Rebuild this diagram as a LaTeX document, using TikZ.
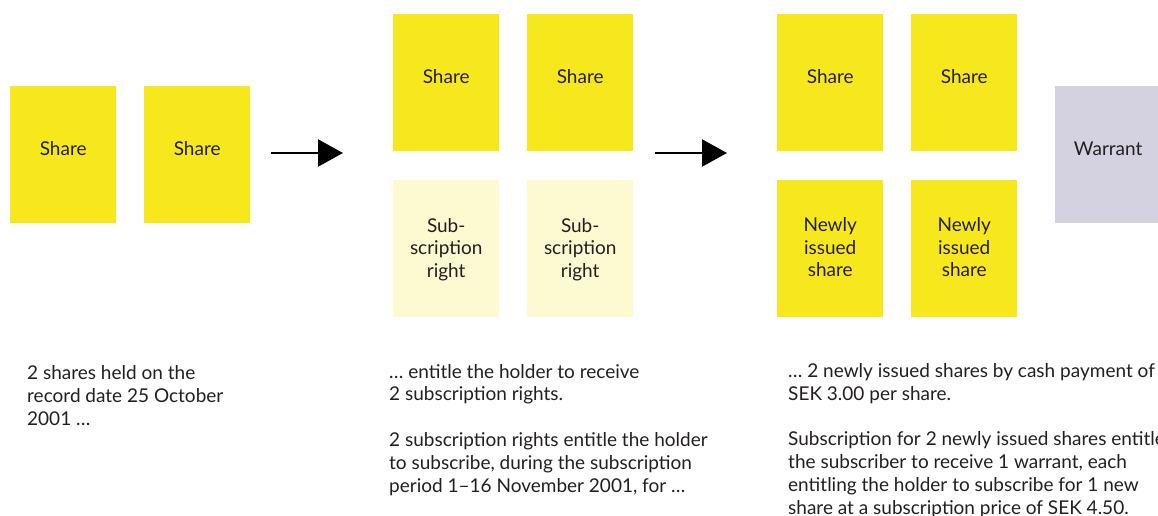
\documentclass[tikz,border=0pt]{standalone}
\usepackage{fontspec}
\setmainfont{Lato}
\usetikzlibrary{arrows.meta}
\definecolor{shareyellow}{HTML}{F7E81E}
\definecolor{rightyellow}{HTML}{FDF9D0}
\definecolor{warrantgrey}{HTML}{D4D2E1}
\definecolor{ink}{HTML}{231F20}
\begin{document}
\begin{tikzpicture}[x=1pt,y=-1pt,
  card/.style={draw=none,inner sep=0pt,minimum width=106pt,minimum height=137pt,anchor=north west},
  sharecard/.style={card,fill=shareyellow},
  rightcard/.style={card,fill=rightyellow},
  warrantcard/.style={card,fill=warrantgrey},
  txt/.style={text=ink,font={\fontsize{19}{22.8}\selectfont}},
  oneline/.style={txt,anchor=base,inner sep=0pt},
  multiline/.style={txt,anchor=center,align=center,inner sep=0pt},
  caption/.style={txt,anchor=base west,align=left,inner sep=0pt},
  flow/.style={line width=2.3pt,-{Triangle[length=25pt,width=27pt]}}]
\useasboundingbox (0,0) rectangle (1158,516);
\clip (0,0) rectangle (1158,516);

% step 1: shares held
\node[sharecard] (s1) at (10,86) {};
\node[sharecard] (s2) at (144,86) {};
% step 2: shares plus subscription rights
\node[sharecard] (m1) at (393,14) {};
\node[sharecard] (m2) at (527,14) {};
\node[rightcard] (r1) at (393,180) {};
\node[rightcard] (r2) at (527,180) {};
% step 3: shares, new shares and warrant
\node[sharecard] (t1) at (777,14) {};
\node[sharecard] (t2) at (911,14) {};
\node[sharecard] (n1) at (777,180) {};
\node[sharecard] (n2) at (911,180) {};
\node[warrantcard] (w) at (1055,86) {};

% card labels
\foreach \c in {s1,s2,m1,m2,t1,t2}
  \node[oneline] at ([yshift=-1pt]\c.center) {Share};
\node[oneline] at ([yshift=-1pt]w.center) {Warrant};
\foreach \c in {r1,r2}
  \node[multiline] at ([yshift=-1pt]\c.center) {Sub-\\scription\\right};
\foreach \c in {n1,n2}
  \node[multiline] at ([yshift=1.5pt]\c.center) {Newly\\issued\\share};

% arrows between the steps
\coordinate (a1s) at (271,153);
\coordinate (a1e) at (343,153);
\coordinate (a2s) at (655,153);
\coordinate (a2e) at (727,153);
\draw[flow] (a1s) -- (a1e);
\draw[flow] (a2s) -- (a2e);

% explanatory text (anchored at the baseline of the last line)
\node[caption] (c1) at (27,425) {2 shares held on the\\record date 25 October\\2001 …};
\node[caption] (c2) at (389,492) {… entitle the holder to receive\\2 subscription rights.\\[22.8pt]2 subscription rights entitle the holder\\to subscribe, during the subscription\\period 1–16 November 2001, for …};
\node[caption] (c3) at (788,514) {… 2 newly issued shares by cash payment of\\SEK 3.00 per share.\\[22.8pt]Subscription for 2 newly issued shares entitles\\the subscriber to receive 1 warrant, each\\entitling the holder to subscribe for 1 new\\share at a subscription price of SEK 4.50.};
\end{tikzpicture}
\end{document}
